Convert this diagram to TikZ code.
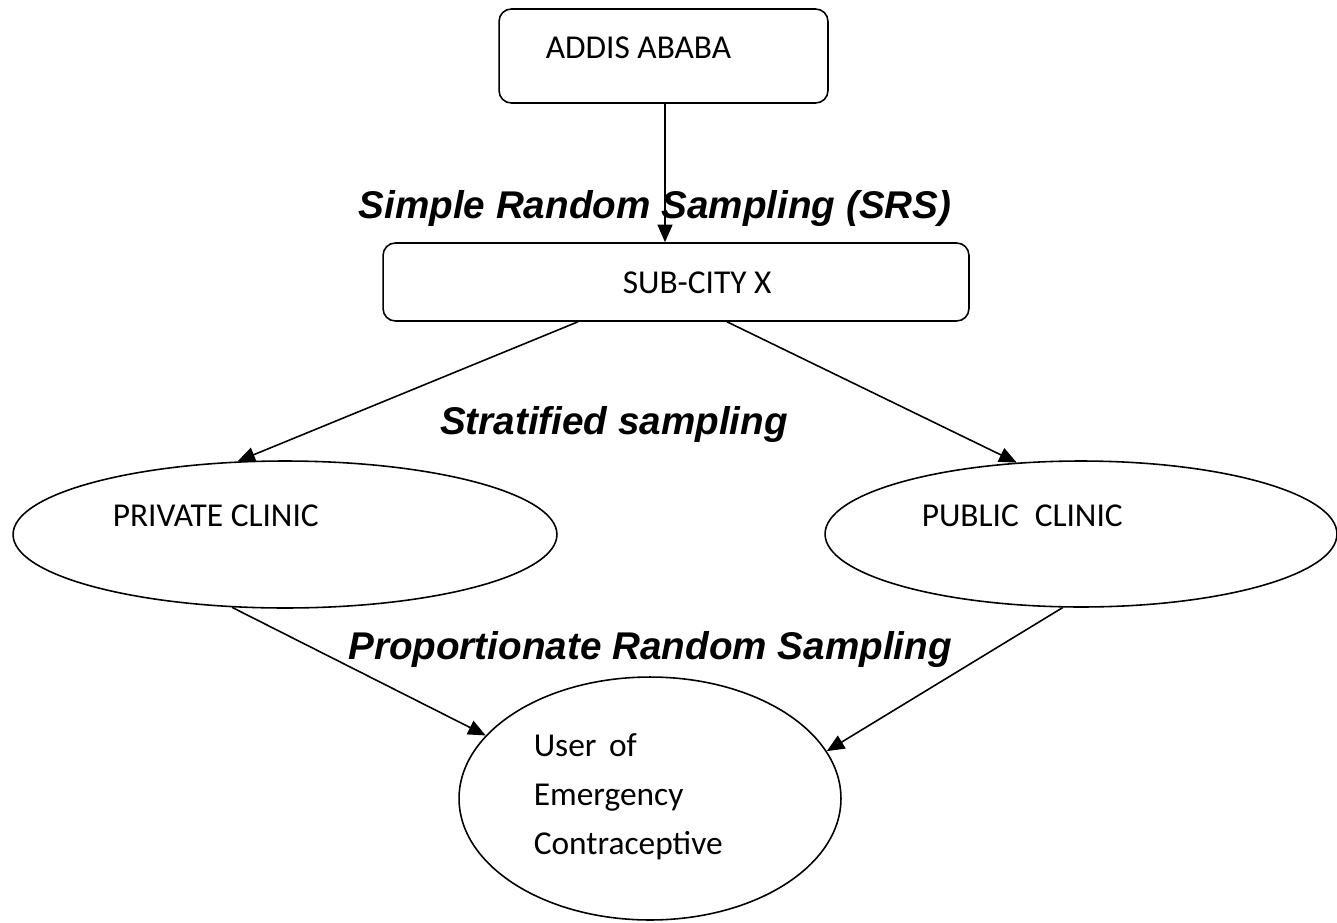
\documentclass[tikz,border=0pt]{standalone}
\usepackage{fontspec}
\setmainfont{Carlito}
\newfontfamily\arialfont{Liberation Sans}
\usetikzlibrary{shapes.geometric,arrows.meta}

\begin{document}
\begin{tikzpicture}[x=.02cm, y=-.02cm, >={Triangle[length=10pt,width=8.5pt]}, line width=.9pt,
    box/.style={draw, rounded corners=7pt, inner sep=0pt},
    oval/.style={draw, ellipse, inner sep=0pt},
    txt/.style={font=\fontsize{19}{28}\selectfont, inner sep=0pt},
    method/.style={font=\arialfont\bfseries\itshape\fontsize{22}{26}\selectfont, inner sep=0pt}]
    \useasboundingbox (0,0) rectangle (1337,922);
% the boxes and ovals
\node[box, minimum width=6.58cm, minimum height=1.88cm] (addis) at (663.5,56) {};
\node[box, minimum width=11.72cm, minimum height=1.56cm] (sub) at (676,282) {};
\node[oval, minimum width=10.88cm, minimum height=2.94cm] (priv) at (285,534.5) {};
\node[oval, minimum width=10.24cm, minimum height=2.92cm] (pub) at (1081,534) {};
\node[oval, minimum width=7.64cm, minimum height=4.86cm] (user) at (650,798.5) {};
% their texts
\node[txt, anchor=west] (addis-t) at (545,48) {ADDIS ABABA};
\node[txt, anchor=west] (sub-t) at (622,283) {SUB-CITY X};
\node[txt, anchor=west] (priv-t) at (112,516) {PRIVATE CLINIC};
\node[txt, anchor=west] (pub-t) at (921,516) {PUBLIC\hspace{.25em} CLINIC};
\node[txt, anchor=west, align=left] (user-t) at (533,797) {User\hspace{.15em} of\\Emergency\\Contraceptive};
% sampling methods
\node[method] (srs) at (655,209) {Simple Random Sampling (SRS)};
\node[method] (strat) at (614,425) {Stratified sampling};
\node[method] (prop) at (650,649) {Proportionate Random Sampling};
% arrows
\draw[->] (addis.south) ++(1.5,0) -- (sub.north -| 665,0);
\draw[->] (sub.south) ++(-98,0) -- (priv.123.5);
\draw[->] (sub.south) ++(51,0) -- (pub.132.5);
\draw[->] (priv.234.4) -- (user.159.3);
\draw[->] (pub.256) -- (user.15.8);
\end{tikzpicture}
\end{document}
